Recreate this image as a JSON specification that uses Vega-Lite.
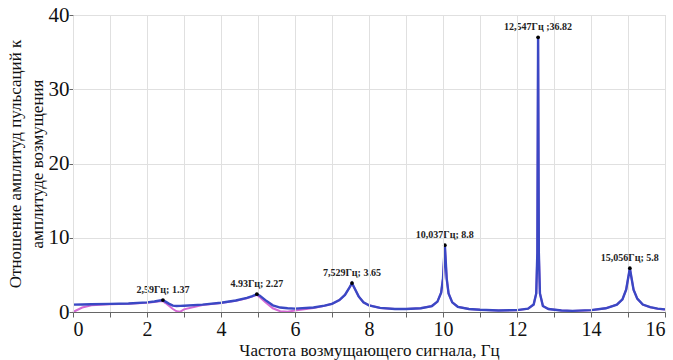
{
  "$schema": "https://vega.github.io/schema/vega-lite/v6.json",
  "width": 592,
  "height": 297,
  "autosize": {"type": "none"},
  "padding": {"left": 73, "top": 15, "right": 8, "bottom": 48},
  "background": "white",
  "config": {
    "font": "Liberation Serif",
    "view": {"stroke": "#cccccc"},
    "axis": {"labelFont": "Liberation Serif", "titleFont": "Liberation Serif", "labelColor": "#111", "titleColor": "#111", "gridColor": "#e0e0e0", "domainColor": "#666", "tickColor": "#666", "titleFontWeight": "normal"}
  },
  "resolve": {"axis": {"x": "independent"}},
  "datasets": {
    "curves": [
      {"x": 0, "b": 1.0, "m": 0.0},
      {"x": 0.25, "b": 1.02, "m": 0.6},
      {"x": 0.5, "b": 1.05, "m": 0.9},
      {"x": 1.0, "b": 1.1, "m": 1.05},
      {"x": 1.5, "b": 1.15, "m": 1.12},
      {"x": 2.0, "b": 1.3, "m": 1.25},
      {"x": 2.2, "b": 1.42, "m": 1.35},
      {"x": 2.35, "b": 1.55, "m": 1.45},
      {"x": 2.43, "b": 1.6, "m": 1.45},
      {"x": 2.5, "b": 1.4, "m": 1.2},
      {"x": 2.6, "b": 1.1, "m": 0.8},
      {"x": 2.7, "b": 0.85, "m": 0.4},
      {"x": 2.8, "b": 0.8, "m": 0.1},
      {"x": 2.9, "b": 0.82, "m": 0.05},
      {"x": 3.0, "b": 0.85, "m": 0.35},
      {"x": 3.5, "b": 1.0, "m": 0.95},
      {"x": 4.0, "b": 1.25, "m": 1.2},
      {"x": 4.4, "b": 1.55, "m": 1.5},
      {"x": 4.7, "b": 1.9, "m": 1.85},
      {"x": 4.85, "b": 2.15, "m": 2.1},
      {"x": 4.97, "b": 2.4, "m": 2.3},
      {"x": 5.05, "b": 2.2, "m": 2.0},
      {"x": 5.2, "b": 1.6, "m": 1.3},
      {"x": 5.4, "b": 0.9, "m": 0.5},
      {"x": 5.6, "b": 0.6, "m": 0.1},
      {"x": 5.8, "b": 0.5, "m": 0.05},
      {"x": 6.0, "b": 0.45, "m": 0.2},
      {"x": 6.5, "b": 0.6, "m": 0.55},
      {"x": 6.8, "b": 0.85, "m": 0.85},
      {"x": 7.0, "b": 1.1, "m": 1.1},
      {"x": 7.2, "b": 1.6, "m": 1.6},
      {"x": 7.35, "b": 2.3, "m": 2.3},
      {"x": 7.45, "b": 3.1, "m": 3.1},
      {"x": 7.54, "b": 3.9, "m": 3.85},
      {"x": 7.62, "b": 3.1, "m": 3.1},
      {"x": 7.72, "b": 2.1, "m": 2.1},
      {"x": 7.85, "b": 1.3, "m": 1.3},
      {"x": 8.0, "b": 0.9, "m": 0.9},
      {"x": 8.3, "b": 0.55, "m": 0.55},
      {"x": 8.7, "b": 0.4, "m": 0.4},
      {"x": 9.0, "b": 0.4, "m": 0.4},
      {"x": 9.4, "b": 0.5, "m": 0.5},
      {"x": 9.7, "b": 0.8, "m": 0.8},
      {"x": 9.85, "b": 1.4, "m": 1.4},
      {"x": 9.95, "b": 2.6, "m": 2.6},
      {"x": 10.0, "b": 4.5, "m": 4.5},
      {"x": 10.05, "b": 9.0, "m": 8.9},
      {"x": 10.1, "b": 4.5, "m": 4.5},
      {"x": 10.15, "b": 2.5, "m": 2.5},
      {"x": 10.25, "b": 1.3, "m": 1.3},
      {"x": 10.4, "b": 0.7, "m": 0.7},
      {"x": 10.7, "b": 0.4, "m": 0.4},
      {"x": 11.0, "b": 0.3, "m": 0.3},
      {"x": 11.5, "b": 0.2, "m": 0.2},
      {"x": 12.0, "b": 0.25, "m": 0.25},
      {"x": 12.3, "b": 0.45, "m": 0.45},
      {"x": 12.45, "b": 1.0, "m": 1.0},
      {"x": 12.52, "b": 2.5, "m": 2.5},
      {"x": 12.55, "b": 8.0, "m": 8.0},
      {"x": 12.57, "b": 37.0, "m": 36.9},
      {"x": 12.59, "b": 8.0, "m": 8.0},
      {"x": 12.62, "b": 2.5, "m": 2.5},
      {"x": 12.7, "b": 0.8, "m": 0.8},
      {"x": 12.85, "b": 0.4, "m": 0.4},
      {"x": 13.2, "b": 0.2, "m": 0.2},
      {"x": 13.5, "b": 0.15, "m": 0.15},
      {"x": 14.0, "b": 0.25, "m": 0.25},
      {"x": 14.4, "b": 0.5, "m": 0.5},
      {"x": 14.7, "b": 1.0, "m": 1.0},
      {"x": 14.85, "b": 1.7, "m": 1.7},
      {"x": 14.95, "b": 3.0, "m": 3.0},
      {"x": 15.05, "b": 5.9, "m": 5.85},
      {"x": 15.15, "b": 3.0, "m": 3.0},
      {"x": 15.25, "b": 1.8, "m": 1.8},
      {"x": 15.4, "b": 1.0, "m": 1.0},
      {"x": 15.6, "b": 0.65, "m": 0.65},
      {"x": 15.8, "b": 0.45, "m": 0.45},
      {"x": 16.0, "b": 0.35, "m": 0.35}
    ],
    "peaks": [
      {"x": 2.43, "y": 1.6, "label": "2,59Гц; 1.37"},
      {"x": 4.97, "y": 2.4, "label": "4.93Гц; 2.27"},
      {"x": 7.54, "y": 3.9, "label": "7,529Гц; 3.65"},
      {"x": 10.05, "y": 9.0, "label": "10,037Гц; 8.8"},
      {"x": 12.57, "y": 37.0, "label": "12,547Гц ;36.82"},
      {"x": 15.05, "y": 5.9, "label": "15,056Гц; 5.8"}
    ]
  },
  "layer": [
    {
      "data": {"name": "curves"},
      "mark": {"type": "line", "color": "#d46ad4", "strokeWidth": 2},
      "encoding": {
        "x": {"field": "x", "type": "quantitative", "scale": {"domain": [0, 16], "nice": false},
          "axis": {"orient": "bottom", "values": [0,2,4,6,8,10,12,14,16], "labelFontSize": 20, "labelPadding": 2, "tickSize": 5, "title": "Частота возмущающего сигнала, Гц", "titleFontSize": 17, "titlePadding": 3, "zindex": 1}},
        "y": {"field": "m", "type": "quantitative", "scale": {"domain": [0, 40], "nice": false},
          "axis": {"values": [0,5,10,15,20,25,30,35,40], "labelExpr": "datum.value % 10 === 0 ? datum.label : ''", "labelFontSize": 21, "labelPadding": 0, "tickSize": 4, "title": ["Отношение амплитуд пульсаций к", "амплитуде возмущения"], "titleFontSize": 17, "titleLineHeight": 22, "titlePadding": 2}}
      }
    },
    {
      "data": {"name": "curves"},
      "mark": {"type": "line", "color": "#3a48c4", "strokeWidth": 2.4},
      "encoding": {
        "x": {"field": "x", "type": "quantitative",
          "axis": {"orient": "bottom", "values": [1,3,5,7,9,11,13,15], "labels": false, "domain": false, "tickSize": 5, "title": null, "grid": true}},
        "y": {"field": "b", "type": "quantitative"}
      }
    },
    {
      "data": {"name": "peaks"},
      "mark": {"type": "point", "filled": true, "color": "black", "size": 14, "opacity": 1},
      "encoding": {
        "x": {"field": "x", "type": "quantitative", "axis": null},
        "y": {"field": "y", "type": "quantitative"}
      }
    },
    {
      "data": {"name": "peaks"},
      "mark": {"type": "text", "font": "Liberation Serif", "fontWeight": "bold", "fontSize": 10, "color": "#222", "baseline": "bottom", "dy": -5},
      "encoding": {
        "x": {"field": "x", "type": "quantitative", "axis": null},
        "y": {"field": "y", "type": "quantitative"},
        "text": {"field": "label"}
      }
    }
  ]
}
